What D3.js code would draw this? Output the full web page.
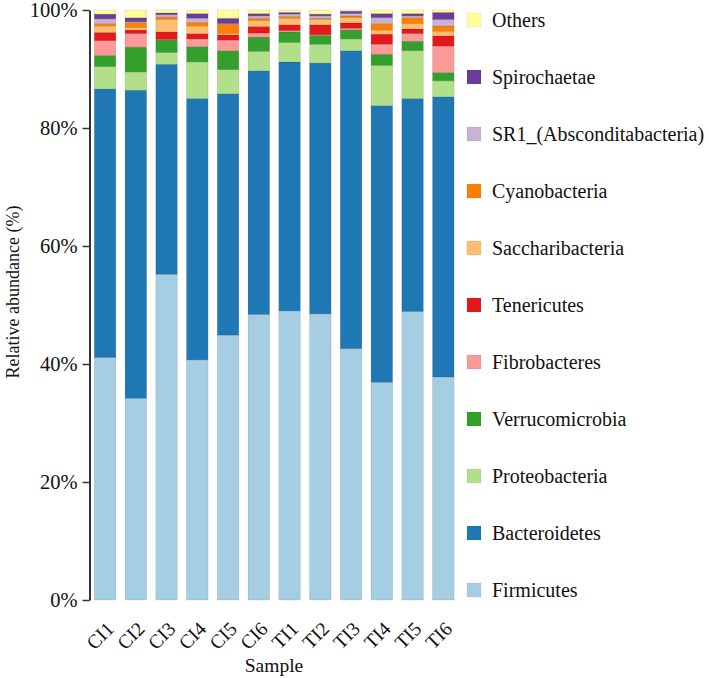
<!DOCTYPE html>
<html>
<head>
<meta charset="utf-8">
<script src="https://d3js.org/d3.v7.min.js"></script>
<style>
  html, body { margin: 0; padding: 0; background: #fff; }
  svg { display: block; }
  svg text { font-family: "Liberation Serif", "Times New Roman", serif; }
</style>
</head>
<body>
<svg id="chart" width="709" height="678"></svg>
<script>
const samples = ["CI1","CI2","CI3","CI4","CI5","CI6","TI1","TI2","TI3","TI4","TI5","TI6"];
const seriesNames = ["Firmicutes","Bacteroidetes","Proteobacteria","Verrucomicrobia","Fibrobacteres","Tenericutes","Saccharibacteria","Cyanobacteria","SR1_(Absconditabacteria)","Spirochaetae","Others"];
const seriesColors = ["#a6cee3","#1f78b4","#b2df8a","#33a02c","#fb9a99","#e31a1c","#fdbf6f","#ff7f00","#cab2d6","#6a3d9a","#ffff99"];

const firmicutes      = [41.1, 34.2, 55.2, 40.7, 44.9, 48.4, 49.0, 48.5, 42.6, 36.9, 48.9, 37.8];
const bacteroidetes   = [45.5, 52.2, 35.6, 44.3, 40.9, 41.3, 42.2, 42.5, 50.5, 46.9, 36.1, 47.5];
const proteobacteria  = [3.8, 3.1, 2.0, 6.2, 4.1, 3.3, 3.3, 3.2, 2.0, 6.8, 8.1, 2.7];
const verrucomicrobia = [1.9, 4.2, 2.1, 2.6, 3.2, 2.4, 1.8, 1.5, 1.5, 1.9, 1.6, 1.4];
const fibrobacteres   = [2.5, 2.3, 0.1, 1.3, 1.8, 0.7, 0.2, 0.1, 0.3, 1.7, 1.3, 4.5];
const tenericutes     = [1.4, 0.6, 1.3, 0.9, 0.9, 1.1, 1.0, 1.7, 0.9, 1.7, 0.8, 1.7];
const saccharibacteria= [1.1, 0.4, 2.1, 1.3, 0.2, 1.0, 1.1, 0.9, 0.9, 0.7, 0.9, 0.8];
const cyanobacteria   = [0.4, 0.9, 0.4, 0.6, 1.6, 0.4, 0.3, 0.2, 0.3, 1.1, 1.0, 0.9];
const sr1             = [0.8, 0.1, 0.4, 0.7, 0.1, 0.4, 0.4, 0.4, 0.4, 1.0, 0.3, 1.1];
const spirochaetae    = [0.8, 0.7, 0.3, 0.8, 0.9, 0.4, 0.3, 0.3, 0.4, 0.7, 0.4, 1.2];
const others          = [0.7, 1.3, 0.5, 0.6, 1.4, 0.6, 0.4, 0.7, 0.2, 0.6, 0.6, 0.4];

const yTicks = [0, 20, 40, 60, 80, 100];
const yTitle = "Relative abundance (%)";
const xTitle = "Sample";

const seriesValues = [firmicutes, bacteroidetes, proteobacteria, verrucomicrobia, fibrobacteres,
  tenericutes, saccharibacteria, cyanobacteria, sr1, spirochaetae, others];

const table = samples.map((s, i) => {
  const row = { sample: s };
  seriesNames.forEach((n, k) => { row[n] = seriesValues[k][i]; });
  return row;
});

const FONT = "Liberation Serif, Times New Roman, serif";
const svg = d3.select("#chart");
const x = d3.scaleBand().domain(samples).range([89.7, 458.7]).paddingInner(0.3).paddingOuter(0.15);
const y = d3.scaleLinear().domain([0, 100]).range([600, 10]);
const color = d3.scaleOrdinal().domain(seriesNames).range(seriesColors);

const stacked = d3.stack().keys(seriesNames)(table);

svg.append("g").selectAll("g")
  .data(stacked).join("g")
  .attr("fill", d => color(d.key))
  .selectAll("rect")
  .data(d => d).join("rect")
  .attr("x", d => x(d.data.sample))
  .attr("width", x.bandwidth())
  .attr("y", d => y(d[1]))
  .attr("height", d => y(d[0]) - y(d[1]))
  .attr("stroke", "rgba(0,0,0,0.12)")
  .attr("stroke-width", 0.8);

// Y axis
const yAxis = svg.append("g")
  .attr("transform", "translate(89.5,0)")
  .call(d3.axisLeft(y).tickValues(yTicks).tickFormat(d => d + "%").tickSize(7).tickSizeOuter(0).tickPadding(5));
yAxis.attr("font-family", FONT);
yAxis.select(".domain").attr("stroke", "#333").attr("stroke-width", 2);
yAxis.selectAll(".tick line").attr("stroke", "#333").attr("stroke-width", 1.5);
yAxis.selectAll("text").attr("font-size", 20.5).attr("fill", "#111").attr("font-family", FONT);

// X labels
svg.append("g").selectAll("text")
  .data(samples).join("text")
  .attr("transform", d => `translate(${x(d) + x.bandwidth() / 2 + 10},${630}) rotate(-45)`)
  .attr("text-anchor", "end")
  .attr("font-family", FONT)
  .attr("font-size", 19.5)
  .attr("fill", "#111")
  .text(d => d);

// Axis titles
svg.append("text")
  .attr("transform", "translate(19,292) rotate(-90)")
  .attr("text-anchor", "middle")
  .attr("font-family", FONT)
  .attr("font-size", 18)
  .attr("fill", "#111")
  .text(yTitle);

svg.append("text")
  .attr("x", 274).attr("y", 672)
  .attr("text-anchor", "middle")
  .attr("font-family", FONT)
  .attr("font-size", 19.5)
  .attr("fill", "#111")
  .text(xTitle);

// Legend (top to bottom: reversed stack order)
const legendItems = seriesNames.slice().reverse();
const ly = d3.scalePoint().domain(legendItems).range([20, 590]);
const lg = svg.append("g").selectAll("g")
  .data(legendItems).join("g")
  .attr("transform", d => `translate(467,${ly(d)})`);
lg.append("rect")
  .attr("x", 0).attr("y", -7).attr("width", 14).attr("height", 14)
  .attr("fill", d => color(d))
  .attr("stroke", "rgba(0,0,0,0.1)").attr("stroke-width", 0.6);
lg.append("text")
  .attr("x", 25).attr("y", 0).attr("dy", "0.35em")
  .attr("font-family", FONT)
  .attr("font-size", 20)
  .attr("fill", "#111")
  .text(d => d);
</script>
</body>
</html>
